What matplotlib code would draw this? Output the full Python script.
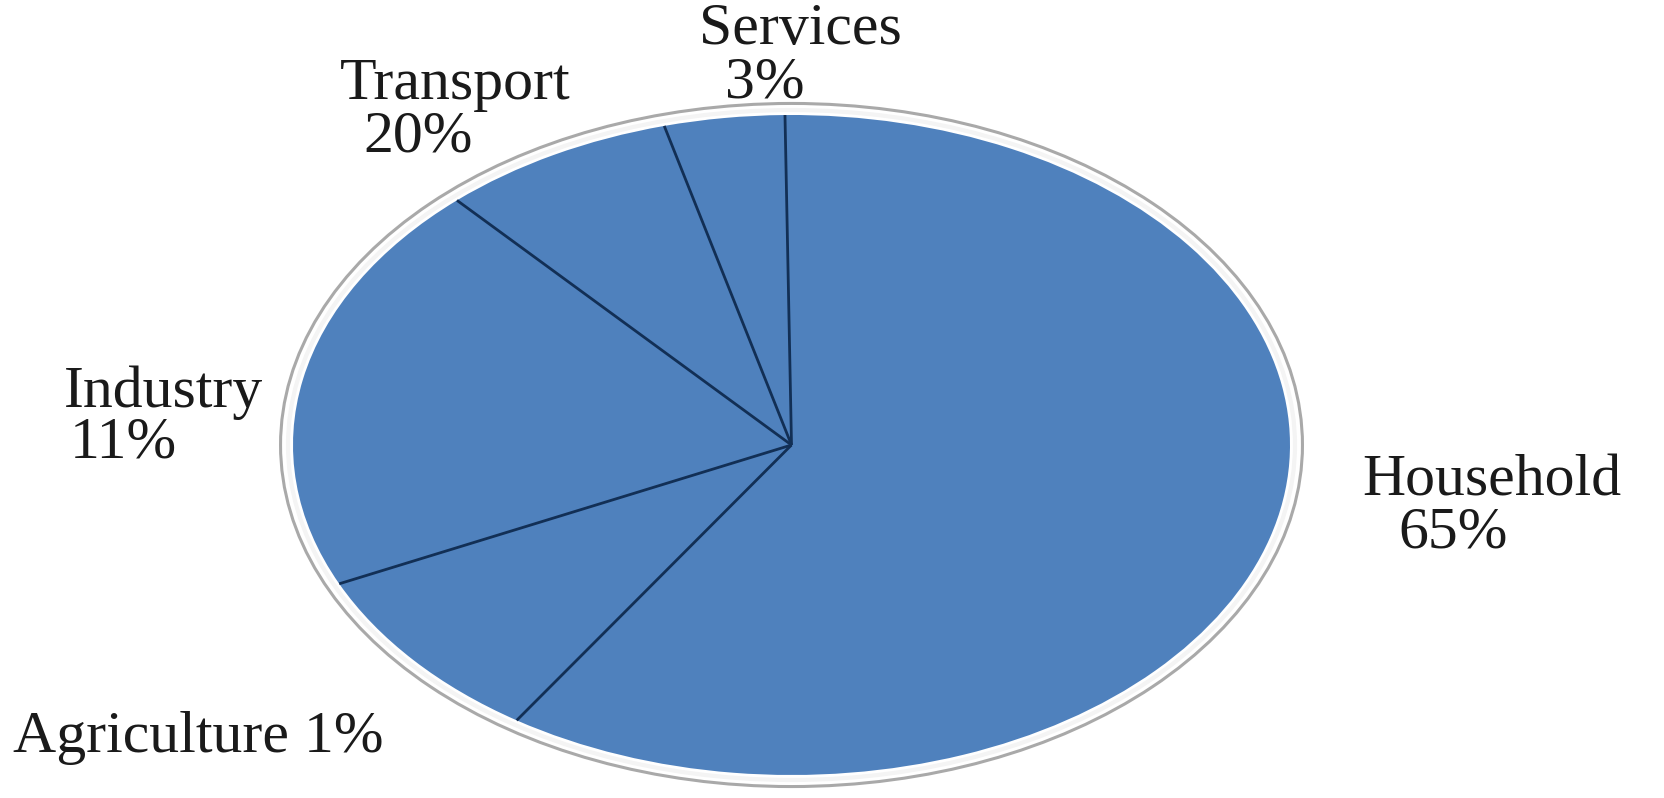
import matplotlib.pyplot as plt
from matplotlib.patches import Ellipse
import numpy as np

# slice shares as drawn (clockwise from 12 o'clock)
sectors = ["Household", "Agriculture", "Industry", "Transport", "Services"]
shares = [59.5, 8.8, 20.2, 7.6, 3.9]
# percentages printed in the data labels
label_pct = ["65%", "1%", "11%", "20%", "3%"]

W, H = 1665, 798
fig = plt.figure(figsize=(W / 100, H / 100), dpi=100)
fig.patch.set_facecolor("white")

# axes box = bounding box of the (squashed) pie
ax = fig.add_axes([293 / W, (H - 775) / H, 997 / W, 660 / H])
wedges, _ = ax.pie(shares, startangle=90.75, counterclock=False,
                   colors=["#4f81bd"] * len(shares),
                   wedgeprops=dict(linewidth=0))
ax.set_aspect("auto")
ax.set_xlim(-1, 1)
ax.set_ylim(-1, 1)
ax.axis("off")

# dark divider lines between slices
for w in wedges:
    a = np.deg2rad(w.theta1)
    ax.plot([0, np.cos(a)], [0, np.sin(a)], color="#122f55", lw=2.0,
            solid_capstyle="butt")

# light 3d-ish rim around the pie
ax.add_patch(Ellipse((0, 0), 2.05, 2.07, fill=False, edgecolor="#a9a9a9",
                     lw=2.2, clip_on=False))
ax.add_patch(Ellipse((0, 0), 2.02, 2.03, fill=False, edgecolor="#f4f4f4",
                     lw=3, clip_on=False))

font = dict(family="Liberation Serif", fontsize=43, color="#1a1a1a")

def px(x, y):
    return x / W, 1 - y / H

fig.text(*px(800, 30), sectors[4], ha="center", va="center", **font)
fig.text(*px(765, 83), label_pct[4], ha="center", va="center", **font)
fig.text(*px(455, 85), sectors[3], ha="center", va="center", **font)
fig.text(*px(418, 137), label_pct[3], ha="center", va="center", **font)
fig.text(*px(64, 393), sectors[2], ha="left", va="center", **font)
fig.text(*px(70, 443), label_pct[2], ha="left", va="center", **font)
fig.text(*px(1492, 481), sectors[0], ha="center", va="center", **font)
fig.text(*px(1453, 534), label_pct[0], ha="center", va="center", **font)
fig.text(*px(13, 738), sectors[1] + " " + label_pct[1], ha="left",
         va="center", **font)

fig.savefig("out.png", dpi=100)
